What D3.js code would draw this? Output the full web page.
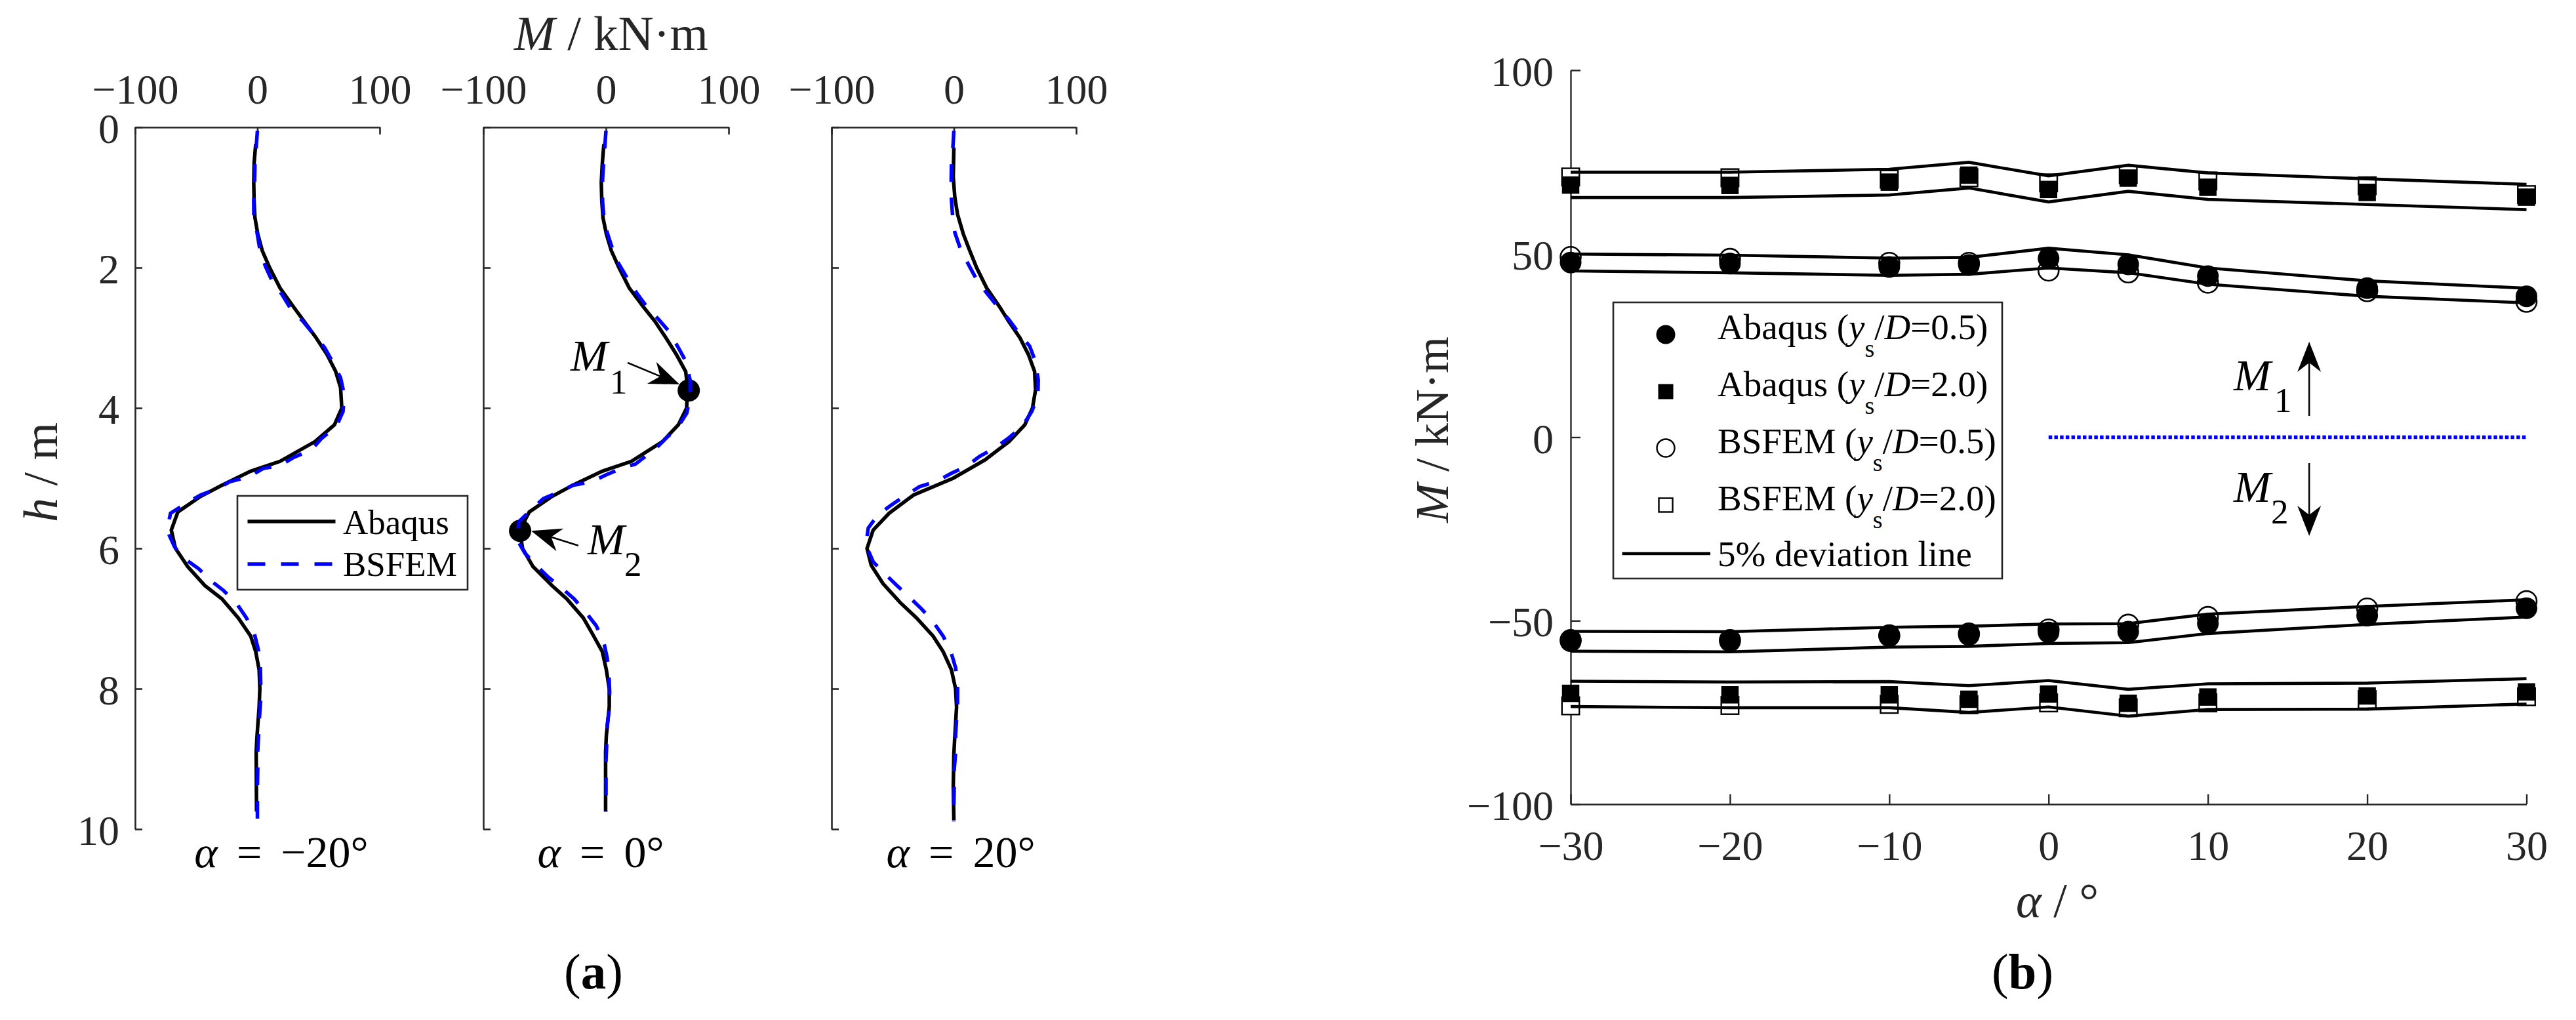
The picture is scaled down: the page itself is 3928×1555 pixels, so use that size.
<!DOCTYPE html>
<html><head><meta charset="utf-8">
<script src="https://cdn.jsdelivr.net/npm/d3@7"></script>
<style>
html,body{margin:0;padding:0;background:#fff}
svg{display:block}
text{font-family:"Liberation Serif",serif}
</style></head><body>
<svg id="c" width="3928" height="1555"></svg>
<script>
// ---------- panel (a): [h, M] ----------
const abaqusNeg20=[[0.24,-1.4],[0.52,-2.7],[0.79,-3],[1.05,-2.7],[1.29,-2],[1.52,0.3],[1.76,4],[2,10],[2.29,18.5],[2.57,30],[2.76,38],[3,48],[3.24,57],[3.48,64],[3.71,68],[4,69],[4.24,63],[4.48,47],[4.76,18.5],[4.9,-5.5],[5.1,-29],[5.26,-46.5],[5.48,-65],[5.74,-70.4],[6,-67],[6.26,-57],[6.53,-43],[6.72,-29],[6.99,-15.7],[7.25,-5.5],[7.47,-1.4],[7.73,1.4],[8,2],[8.26,1.4],[8.67,-0.3],[8.9,-1],[9.75,-0.7]];
const bsfemNeg20=[[0.05,0],[0.29,-1],[0.52,-2],[0.79,-2.3],[1.05,-3],[1.3,-2.9],[1.5,-0.3],[1.74,2],[1.98,6.5],[2.19,12],[2.38,20],[2.6,27.7],[2.76,37],[2.95,46],[3.14,55],[3.36,62],[3.57,68],[3.81,71],[4.05,70],[4.26,64.6],[4.43,52.6],[4.6,44],[4.7,30],[4.82,18.5],[4.86,4.8],[4.98,-7],[5.05,-22.6],[5.15,-33],[5.24,-46.5],[5.36,-58.5],[5.5,-71],[5.74,-74],[5.98,-67.7],[6.14,-60],[6.29,-48],[6.46,-38],[6.6,-27.7],[6.8,-16.4],[6.99,-9],[7.2,-2.7],[7.44,0.7],[7.68,2.4],[7.92,2.7],[8.16,2.7],[8.4,1.7],[8.64,1],[8.88,0.3],[9.12,0.3],[9.39,0],[9.94,0]];
const abaqusZero=[[0.24,-1.7],[0.52,-3],[0.79,-3.8],[1.05,-3.4],[1.29,-2.4],[1.52,0.3],[1.76,4.4],[2,10.6],[2.29,19],[2.57,31],[2.76,39.7],[3,48.9],[3.24,57.5],[3.48,65],[3.71,66.6],[4,65.8],[4.24,59],[4.48,46],[4.76,20.8],[4.9,-3],[5.1,-27],[5.26,-44],[5.48,-62.5],[5.74,-70.4],[6,-68],[6.26,-59.5],[6.53,-44],[6.72,-32],[6.99,-18.5],[7.25,-10],[7.47,-3],[7.73,0.3],[8,2.7],[8.26,2.7],[8.67,0.3],[8.9,-0.3],[9.75,-0.3]];
const bsfemZero=[[0.05,0],[0.29,-1],[0.52,-2],[0.76,-2.8],[1.05,-2.8],[1.29,-1.7],[1.5,1],[1.74,5.5],[1.95,10.6],[2.14,17],[2.36,25],[2.55,33],[2.74,43],[2.9,51],[3.14,59],[3.33,65],[3.6,68.6],[3.84,68.6],[4.07,66],[4.29,58],[4.43,49],[4.57,41],[4.8,24],[4.85,14],[4.95,0.3],[5.05,-11.6],[5.1,-27],[5.19,-37],[5.29,-51],[5.45,-61],[5.62,-71],[5.86,-73],[6.07,-66],[6.22,-58],[6.41,-47],[6.55,-37],[6.72,-26],[6.9,-17],[7.1,-8],[7.32,-2],[7.56,1],[7.8,2.4],[8.04,3],[8.28,2.7],[8.52,1],[8.76,0.7],[9.03,0],[9.75,0]];
const abaqusPos20=[[0.29,0],[0.71,-0.5],[1,0.8],[1.24,3],[1.52,7.7],[1.76,13],[2,18.6],[2.29,26.8],[2.57,37.8],[2.76,44.6],[3,54],[3.24,61],[3.48,66],[3.74,66.8],[4,64.3],[4.24,58],[4.48,45],[4.74,25.4],[5,-0.5],[5.24,-33],[5.5,-53],[5.74,-66],[6,-71],[6.24,-67.6],[6.5,-58],[6.77,-44],[6.99,-30.6],[7.25,-17],[7.47,-8.8],[7.73,-2],[8,1.4],[8.26,2.2],[8.67,0.8],[8.93,0],[9.39,-0.5],[9.87,0]];
const bsfemPos20=[[0.05,0],[0.29,-0.8],[0.52,-2],[0.76,-2.2],[1.03,-2],[1.27,-1],[1.5,0.8],[1.74,5.5],[1.95,11.8],[2.17,18.6],[2.36,26.8],[2.55,35.6],[2.74,45],[2.93,53],[3.12,62],[3.33,66.5],[3.6,69],[3.83,68.7],[4.05,63.7],[4.26,56],[4.43,44.6],[4.57,33.6],[4.69,21],[4.83,10.4],[4.93,-2],[5.05,-14.8],[5.12,-28],[5.24,-39],[5.38,-51],[5.52,-62],[5.71,-70],[5.95,-72],[6.19,-66],[6.36,-56.6],[6.53,-46.5],[6.7,-36],[6.87,-26],[7.06,-16.4],[7.25,-8.8],[7.47,-2.5],[7.7,1.4],[7.93,3],[8.19,3],[8.43,2.2],[8.67,1.4],[8.91,1.4],[9.15,0.3],[9.39,0.3],[9.65,0],[9.89,0]];
const panelTitles=[" = \u221220\u00B0"," = 0\u00B0"," = 20\u00B0"];
const hTicks=[0,2,4,6,8,10];
const mTicks=[-100,0,100];
const peakPoints=[[3.75,67.5],[5.75,-70]];
// ---------- panel (b) ----------
const alphas=[-30,-20,-10,-5,0,5,10,20,30];
const alphaTicks=[-30,-20,-10,0,10,20,30];
const momentTicks=[-100,-50,0,50,100];
const abaqus05M1=[47.6,47.3,46.4,46.9,48.7,47.1,43.9,40.6,38.4];
const bsfem05M1=[49.1,48.6,47.5,47.5,45.4,44.9,42.1,39.8,36.9];
const abaqus20M1=[68.7,68.6,69.5,71.4,67.5,70.6,68.1,66.7,65.4];
const bsfem20M1=[70.9,70.7,70.3,70.7,69.3,71.5,69.8,68.5,66.1];
const abaqus05M2=[-55.6,-55.6,-54.2,-53.9,-53.2,-53,-50.8,-48.6,-46.6];
const bsfem05M2=[-55.3,-55.3,-54,-53.5,-52.4,-51.1,-49,-46.7,-44.7];
const abaqus20M2=[-69.8,-70.2,-70.2,-71.4,-70,-72.5,-70.8,-70.5,-69.4];
const bsfem20M2=[-73.2,-73.1,-72.8,-72.9,-72.4,-73.7,-72.4,-71.5,-70.7];
const dev05M1Up=[49.9,49.6,48.8,49,51.5,49.7,46.1,42.6,40.6];
const dev05M1Lo=[45.3,44.8,44.1,44.4,46.1,44.8,41.7,38.4,36.6];
const dev20M1Up=[72.2,72.2,73,74.9,71.2,74.1,72,70.4,68.9];
const dev20M1Lo=[65.3,65.3,66,67.9,64.1,67,64.8,63.4,62];
const dev05M2Up=[-52.9,-53,-51.8,-51.5,-50.9,-50.8,-48.2,-46.1,-44.3];
const dev05M2Lo=[-58.3,-58.5,-57.2,-57,-56.2,-56,-53.5,-51,-49];
const dev20M2Up=[-66.5,-66.7,-66.6,-67.7,-66.3,-68.7,-67.2,-67,-65.8];
const dev20M2Lo=[-73.4,-73.7,-73.7,-75,-73.5,-76,-74.2,-74.1,-72.7];
const zeroLineAlpha=[0,30];
const zeroLineMoment=[0,0];

const svg=d3.select("#c");
const AX="#262626", BLUE="#0000ff";
const fmt=d=>String(d).replace("-","\u2212");

function arrow(g,x0,y0,x1,y1){
  const a=Math.atan2(y1-y0,x1-x0),L=46,W=18,N=32;
  const c=Math.cos(a),s=Math.sin(a);
  const P=(d,w)=>[x1-d*c-w*s,y1-d*s+w*c];
  const nb=P(N,0);
  g.append("line").attr("x1",x0).attr("y1",y0).attr("x2",nb[0]).attr("y2",nb[1]).attr("stroke","#000").attr("stroke-width",2.5);
  g.append("path").attr("d","M"+[[x1,y1],P(L,W),nb,P(L,-W)].map(p=>p.join(",")).join("L")+"Z").attr("fill","#000");
}
function symLabel(g,x,y,sub,dx,subDy,size,subSize){
  g.append("text").attr("x",x).attr("y",y).attr("font-size",size).attr("font-style","italic").attr("fill","#000").text("M");
  g.append("text").attr("x",x+dx).attr("y",y+subDy).attr("font-size",subSize).attr("fill","#000").text(sub);
}

// ---------- panel (a) ----------
const yH=d3.scaleLinear().domain([0,10]).range([194,1264]);
const panels=[
 {l:206,r:579,ab:abaqusNeg20,bs:bsfemNeg20,cx:429},
 {l:737,r:1111,ab:abaqusZero,bs:bsfemZero,cx:916},
 {l:1268,r:1641,ab:abaqusPos20,bs:bsfemPos20,cx:1465}
];
panels.forEach((p,i)=>{
  const x=d3.scaleLinear().domain([-100,100]).range([p.l,p.r]);
  p.x=x;
  const g=svg.append("g");
  const ax=d3.axisTop(x).tickValues(mTicks).tickFormat(fmt).tickSize(-11).tickSizeOuter(0).tickPadding(36);
  const ay=d3.axisLeft(yH).tickValues(hTicks).tickSize(-11).tickSizeOuter(0).tickPadding(24);
  if(i>0) ay.tickFormat("");
  const gx=g.append("g").attr("transform",`translate(0,${yH(0)})`).call(ax);
  const gy=g.append("g").attr("transform",`translate(${x(-100)},0)`).call(ay);
  [gx,gy].forEach(s=>{
    s.selectAll("path,line").attr("stroke",AX).attr("stroke-width",2.6);
    s.selectAll("text").attr("font-size",64).attr("font-family","Liberation Serif").attr("fill",AX);
  });
  gy.selectAll("text").attr("dy","0.36em");
  gx.selectAll("text").attr("dy","0");
  if(i===1){
    g.selectAll("circle.pk").data(peakPoints).join("circle").attr("class","pk")
      .attr("cx",d=>x(d[1])).attr("cy",d=>yH(d[0])).attr("r",17).attr("fill","#000");
  }
  const line=d3.line().x(d=>x(d[1])).y(d=>yH(d[0]));
  g.append("path").datum(p.ab).attr("d",line).attr("fill","none").attr("stroke","#000").attr("stroke-width",5.5);
  g.append("path").datum(p.bs).attr("d",line).attr("fill","none").attr("stroke",BLUE).attr("stroke-width",5.5).attr("stroke-dasharray","27 24");
  const tt=g.append("text").attr("x",p.cx).attr("y",1322).attr("text-anchor","middle").attr("font-size",68)
    .attr("word-spacing",12).attr("fill","#000");
  tt.append("tspan").attr("font-style","italic").text("\u03B1");
  tt.append("tspan").text(panelTitles[i]);
  if(i===1){
    arrow(g,x(17.7),yH(3.355),x(60),yH(3.664));
    arrow(g,x(-22.5),yH(5.96),x(-61),yH(5.75));
    symLabel(g,870,565,"1",60,35,68,53);
    symLabel(g,896,845,"2",56,33,68,53);
  }
});
// legend (a)
const lgA=svg.append("g");
lgA.append("rect").attr("x",362).attr("y",756).attr("width",351).attr("height",143).attr("fill","#fff").attr("stroke",AX).attr("stroke-width",2.6);
lgA.append("line").attr("x1",377.5).attr("x2",511.5).attr("y1",795).attr("y2",795).attr("stroke","#000").attr("stroke-width",5.5);
lgA.append("line").attr("x1",377.5).attr("x2",511.5).attr("y1",860).attr("y2",860).attr("stroke",BLUE).attr("stroke-width",5.5).attr("stroke-dasharray","27 24");
lgA.append("text").attr("x",523).attr("y",814).attr("font-size",53).text("Abaqus");
lgA.append("text").attr("x",523).attr("y",878).attr("font-size",53).text("BSFEM");
// axis titles (a)
const tM=svg.append("text").attr("x",932).attr("y",76).attr("text-anchor","middle").attr("font-size",75).attr("fill",AX);
tM.append("tspan").attr("font-style","italic").text("M");
tM.append("tspan").text(" / kN\u00B7m");
const tH=svg.append("text").attr("transform","translate(87,720) rotate(-90)").attr("text-anchor","middle").attr("font-size",74).attr("fill",AX);
tH.append("tspan").attr("font-style","italic").text("h");
tH.append("tspan").text(" / m");
const la=svg.append("text").attr("x",905).attr("y",1507).attr("text-anchor","middle").attr("font-size",77).attr("fill","#000");
la.append("tspan").text("(");la.append("tspan").attr("font-weight","bold").text("a");la.append("tspan").text(")");

// ---------- panel (b) ----------
const xA=d3.scaleLinear().domain([-30,30]).range([2395,3852.5]);
const yM=d3.scaleLinear().domain([-100,100]).range([1226,107]);
const gb=svg.append("g");
const gbx=gb.append("g").attr("transform",`translate(0,${yM(-100)})`)
  .call(d3.axisBottom(xA).tickValues(alphaTicks).tickFormat(fmt).tickSize(-15).tickSizeOuter(0).tickPadding(85));
const gby=gb.append("g").attr("transform",`translate(${xA(-30)},0)`)
  .call(d3.axisLeft(yM).tickValues(momentTicks).tickFormat(fmt).tickSize(-15).tickSizeOuter(0).tickPadding(26));
[gbx,gby].forEach(s=>{
  s.selectAll("path,line").attr("stroke",AX).attr("stroke-width",2.4);
  s.selectAll("text").attr("font-size",64).attr("font-family","Liberation Serif").attr("fill",AX);
});
gbx.selectAll("text").attr("dy","0");
gby.selectAll("text").attr("dy","0.37em");

const zeroLine=d3.line().x((d,i)=>xA(d)).y((d,i)=>yM(zeroLineMoment[i]));
gb.append("path").datum(zeroLineAlpha).attr("d",zeroLine).attr("fill","none").attr("stroke",BLUE).attr("stroke-width",5.5).attr("stroke-dasharray","5.5 3.2");

const SQ=26.5,R=16.5;
function openCircles(v){gb.append("g").selectAll("circle").data(v).join("circle").attr("cx",(d,i)=>xA(alphas[i])).attr("cy",d=>yM(d)).attr("r",R-1).attr("fill","none").attr("stroke","#000").attr("stroke-width",2.6);}
function openSquares(v){gb.append("g").selectAll("rect").data(v).join("rect").attr("x",(d,i)=>xA(alphas[i])-SQ/2).attr("y",d=>yM(d)-SQ/2).attr("width",SQ).attr("height",SQ).attr("fill","#fff").attr("stroke","#000").attr("stroke-width",2.4);}
function fillCircles(v){gb.append("g").selectAll("circle").data(v).join("circle").attr("cx",(d,i)=>xA(alphas[i])).attr("cy",d=>yM(d)).attr("r",R).attr("fill","#000");}
function fillSquares(v){gb.append("g").selectAll("rect").data(v).join("rect").attr("x",(d,i)=>xA(alphas[i])-SQ/2).attr("y",d=>yM(d)-SQ/2).attr("width",SQ).attr("height",SQ).attr("fill","#000");}
openSquares(bsfem20M1);openSquares(bsfem20M2);
openCircles(bsfem05M1);openCircles(bsfem05M2);
fillSquares(abaqus20M1);fillSquares(abaqus20M2);
fillCircles(abaqus05M1);fillCircles(abaqus05M2);

const devLine=d3.line().x((d,i)=>xA(alphas[i])).y(d=>yM(d));
[dev05M1Up,dev05M1Lo,dev20M1Up,dev20M1Lo,dev05M2Up,dev05M2Lo,dev20M2Up,dev20M2Lo].forEach(s=>{
  gb.append("path").datum(s).attr("d",devLine).attr("fill","none").attr("stroke","#000").attr("stroke-width",4.6);
});

// arrows and symbols (b)
arrow(gb,xA(16.36),yM(5.8),xA(16.36),yM(26));
arrow(gb,xA(16.36),yM(-7.06),xA(16.36),yM(-26.9));
symLabel(gb,3406,595,"1",62,33,68,53);
symLabel(gb,3406,765,"2",57,33,68,53);

// legend (b)
const lgB=svg.append("g");
lgB.append("rect").attr("x",2460).attr("y",461).attr("width",593).attr("height",421).attr("fill","#fff").attr("stroke",AX).attr("stroke-width",2.6);
const legendNames=["Abaqus","Abaqus","BSFEM","BSFEM"];
const legendRatios=["0.5","2.0","0.5","2.0"];
const rowB=[517,604,691,778],rowM=[510,597,683,770];
legendNames.forEach((n,i)=>{
  const t=lgB.append("text").attr("x",2619).attr("y",rowB[i]).attr("font-size",55).attr("fill","#000");
  t.append("tspan").text(n+" (");
  t.append("tspan").attr("font-style","italic").text("y");
  t.append("tspan").attr("dy",27).attr("font-size",38).text("s");
  t.append("tspan").attr("dy",-27).text("/");
  t.append("tspan").attr("font-style","italic").text("D");
  t.append("tspan").text("="+legendRatios[i]+")");
});
lgB.append("circle").attr("cx",2540).attr("cy",rowM[0]).attr("r",14.5).attr("fill","#000");
lgB.append("rect").attr("x",2540-11.5).attr("y",rowM[1]-11.5).attr("width",23).attr("height",23).attr("fill","#000");
lgB.append("circle").attr("cx",2540).attr("cy",rowM[2]).attr("r",13.5).attr("fill","#fff").attr("stroke","#000").attr("stroke-width",2.4);
lgB.append("rect").attr("x",2540-10.5).attr("y",rowM[3]-10.5).attr("width",21).attr("height",21).attr("fill","#fff").attr("stroke","#000").attr("stroke-width",2.4);
lgB.append("line").attr("x1",2473.5).attr("x2",2608).attr("y1",844).attr("y2",844).attr("stroke","#000").attr("stroke-width",4.6);
lgB.append("text").attr("x",2619).attr("y",863).attr("font-size",55).text("5% deviation line");

// titles (b)
const tMb=svg.append("text").attr("transform","translate(2208,655) rotate(-90)").attr("text-anchor","middle").attr("font-size",72).attr("fill",AX);
tMb.append("tspan").attr("font-style","italic").text("M");
tMb.append("tspan").text(" / kN\u00B7m");
const tAb=svg.append("text").attr("x",3137).attr("y",1398).attr("text-anchor","middle").attr("font-size",74).attr("fill",AX);
tAb.append("tspan").attr("font-style","italic").text("\u03B1");
tAb.append("tspan").text(" / \u00B0");
const lb=svg.append("text").attr("x",3084).attr("y",1507).attr("text-anchor","middle").attr("font-size",77).attr("fill","#000");
lb.append("tspan").text("(");lb.append("tspan").attr("font-weight","bold").text("b");lb.append("tspan").text(")");
</script>
</body></html>
